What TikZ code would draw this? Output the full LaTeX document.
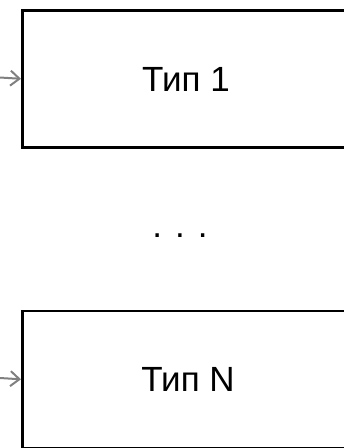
\documentclass[tikz,border=0pt]{standalone}
\usepackage{fontspec}
\setmainfont{Liberation Sans}
\usetikzlibrary{arrows.meta}
\begin{document}
\begin{tikzpicture}[x=1pt,y=-1pt,
  typebox/.style={draw=black,line width=2.6pt,minimum width=334pt,minimum height=137pt,inner sep=0pt,anchor=north west},
  label/.style={font=\fontsize{35}{42}\selectfont},
  inarrow/.style={draw=gray,line width=2pt,-{Straight Barb[length=9pt,width=15pt,line width=2pt]}}]
\useasboundingbox (0,0) rectangle (344,448);
\node[typebox] (t1) at (21,9) {};
\node[label] (l1) at (186,79) {Тип 1};
\node[typebox] (tn) at (21,309.5) {};
\node[label] (ln) at (188,379) {Тип N};
\node[label] (dots) at (180,236) {. . .};
\coordinate (s1) at (0,77.5);
\coordinate (sn) at (0,378);
\draw[inarrow] (s1) -- (t1.west);
\draw[inarrow] (sn) -- (tn.west);
\end{tikzpicture}
\end{document}
